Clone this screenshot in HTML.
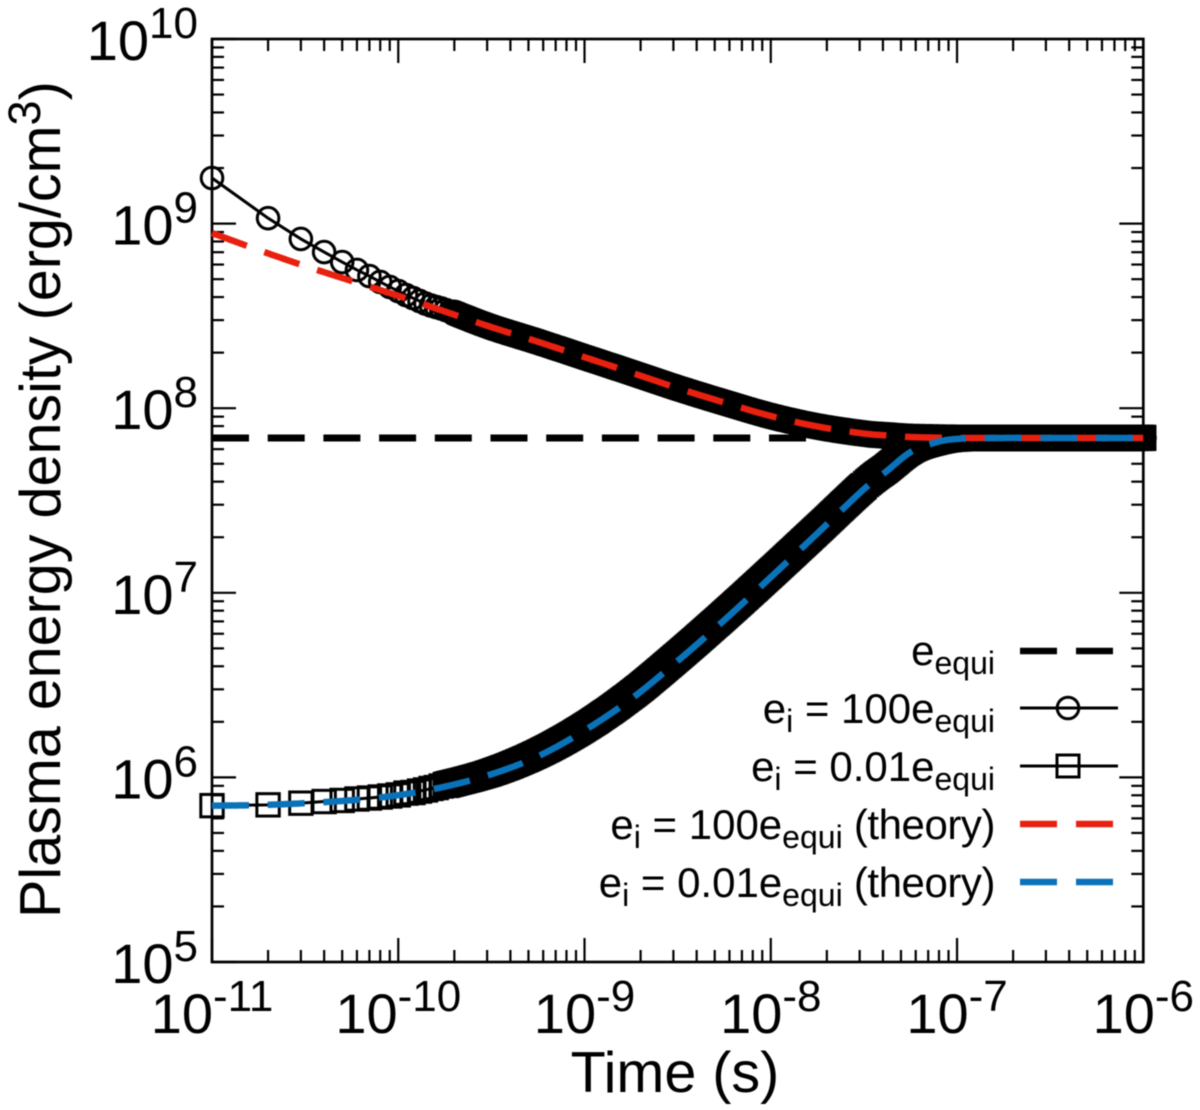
<!DOCTYPE html>
<html lang="en">
<head>
<meta charset="utf-8">
<title>Plasma energy density vs time</title>
<style>
html,body{margin:0;padding:0;background:#fff;}
svg{display:block;font-family:"Liberation Sans",Arial,sans-serif;fill:#000;filter:blur(0.5px);}
</style>
</head>
<body>
<svg id="chart" xmlns="http://www.w3.org/2000/svg" width="1200" height="1110" viewBox="0 0 1200 1110">
  <rect x="0" y="0" width="1200" height="1110" fill="#fff"/>
  <g id="axes"></g>
  <g id="series"></g>
  <text x="675" y="1092" font-size="57.5" text-anchor="middle">Time (s)</text>
  <text transform="translate(60,918) rotate(-90)" font-size="57.5">Plasma energy density (erg/cm<tspan font-size="45" dy="-20">3</tspan><tspan dy="20">)</tspan></text>
  <g font-size="42" text-anchor="end">
    <text x="995" y="665">e<tspan font-size="32" dy="9">equi</tspan></text>
    <text x="995" y="723">e<tspan font-size="32" dy="9">i</tspan><tspan dy="-9"> = 100e</tspan><tspan font-size="32" dy="9">equi</tspan></text>
    <text x="995" y="781">e<tspan font-size="32" dy="9">i</tspan><tspan dy="-9"> = 0.01e</tspan><tspan font-size="32" dy="9">equi</tspan></text>
    <text x="995" y="839">e<tspan font-size="32" dy="9">i</tspan><tspan dy="-9"> = 100e</tspan><tspan font-size="32" dy="9">equi</tspan><tspan dy="-9" letter-spacing="-0.45"> (theory)</tspan></text>
    <text x="995" y="897">e<tspan font-size="32" dy="9">i</tspan><tspan dy="-9"> = 0.01e</tspan><tspan font-size="32" dy="9">equi</tspan><tspan dy="-9" letter-spacing="-0.45"> (theory)</tspan></text>
  </g>
  <g fill="none" stroke="#000">
    <line x1="1020" x2="1114" y1="651" y2="651" stroke-width="6.5" stroke-dasharray="37 19"/>
    <line x1="1020" x2="1118" y1="708" y2="708" stroke-width="3"/>
    <circle cx="1068" cy="708" r="10.8" stroke-width="3"/>
    <line x1="1020" x2="1118" y1="766" y2="766" stroke-width="3"/>
    <rect x="1057" y="755" width="22" height="22" stroke-width="3"/>
    <line x1="1020" x2="1114" y1="824" y2="824" stroke="#e8200f" stroke-width="6.5" stroke-dasharray="37 19"/>
    <line x1="1020" x2="1114" y1="882" y2="882" stroke="#0a72b8" stroke-width="6.5" stroke-dasharray="37 19"/>
  </g>
</svg>
<script>
// Axis ranges and tick labels
const xLogRange = [-11, -6];
const yLogRange = [5, 10];
const xTickExponents = ['-11', '-10', '-9', '-8', '-7', '-6'];
const yTickExponents = ['5', '6', '7', '8', '9', '10'];
const minorTickMultipliers = [2, 3, 4, 5, 6, 7, 8, 9];

// Equilibrium level (erg/cm3)
const equilibriumValue = [6.9e7];

// Theory curves, shared time samples (s)
const theoryTimes = [1e-11, 1.78e-11, 3.16e-11, 5.62e-11, 1e-10, 1.78e-10, 3.16e-10, 5.62e-10, 1e-9, 1.78e-9, 3.16e-9, 5.62e-9, 1e-8, 1.78e-8, 3.16e-8, 4.2e-8, 5.62e-8, 7.5e-8, 1e-7, 1.78e-7, 3.16e-7, 5.62e-7, 1e-6];
const hotTheoryValues = [8.89e8, 7.19e8, 5.89e8, 4.89e8, 4.06e8, 3.34e8, 2.75e8, 2.29e8, 1.89e8, 1.56e8, 1.285e8, 1.074e8, 9.07e7, 7.96e7, 7.29e7, 7.12e7, 6.98e7, 6.93e7, 6.9e7, 6.9e7, 6.9e7, 6.9e7, 6.9e7];
const coldTheoryValues = [7.03e5, 7.08e5, 7.25e5, 7.52e5, 8.01e5, 8.91e5, 1.04e6, 1.30e6, 1.795e6, 2.66e6, 4.27e6, 7.10e6, 1.215e7, 2.10e7, 3.64e7, 4.57e7, 5.78e7, 6.48e7, 6.82e7, 6.9e7, 6.9e7, 6.9e7, 6.9e7];

// Simulation e_i = 100 e_equi: separately resolved markers
const hotMarkerTimes = [1e-11, 2e-11, 3e-11, 4e-11, 5e-11, 6e-11, 7e-11, 8e-11, 9e-11, 1e-10, 1.1e-10, 1.2e-10, 1.3e-10, 1.4e-10, 1.5e-10, 1.6e-10, 1.7e-10, 1.8e-10, 1.9e-10, 2e-10];
const hotMarkerValues = [1.766e9, 1.07e9, 8.26e8, 7.01e8, 6.19e8, 5.61e8, 5.2e8, 4.83e8, 4.54e8, 4.31e8, 4.1e8, 3.95e8, 3.81e8, 3.69e8, 3.6e8, 3.53e8, 3.47e8, 3.4e8, 3.34e8, 3.28e8];

// Simulation e_i = 0.01 e_equi: separately resolved markers
const coldMarkerTimes = [1e-11, 2e-11, 3e-11, 4e-11, 5e-11, 6e-11, 7e-11, 8e-11, 9e-11, 1e-10, 1.1e-10, 1.2e-10, 1.3e-10, 1.4e-10, 1.5e-10, 1.6e-10, 1.7e-10, 1.8e-10];
const coldMarkerValues = [7.03e5, 7.1e5, 7.25e5, 7.4e5, 7.5e5, 7.64e5, 7.73e5, 7.83e5, 7.93e5, 8.04e5, 8.22e5, 8.28e5, 8.43e5, 8.55e5, 8.71e5, 8.81e5, 8.98e5, 9.1e5];

// Simulation tails where the markers overlap into a solid band
const tailTimes = [3.16e-10, 5.62e-10, 1e-9, 1.78e-9, 3.16e-9, 5.62e-9, 1e-8, 1.78e-8, 3.16e-8, 4.2e-8, 5.62e-8, 7.5e-8, 1e-7, 1.78e-7, 3.16e-7, 5.62e-7, 1e-6];
const hotTailValues = [2.75e8, 2.29e8, 1.89e8, 1.56e8, 1.285e8, 1.074e8, 9.07e7, 7.96e7, 7.29e7, 7.12e7, 6.98e7, 6.93e7, 6.9e7, 6.9e7, 6.9e7, 6.9e7, 6.9e7];
const coldTailValues = [1.063e6, 1.348e6, 1.863e6, 2.795e6, 4.52e6, 7.53e6, 1.28e7, 2.20e7, 3.79e7, 4.74e7, 5.94e7, 6.56e7, 6.85e7, 6.9e7, 6.9e7, 6.9e7, 6.9e7];

const NS = 'http://www.w3.org/2000/svg';
const plot = { left: 212, right: 1143.3, top: 39, bottom: 962 };

function xScale(t) {
  return plot.left + (Math.log10(t) - xLogRange[0]) / (xLogRange[1] - xLogRange[0]) * (plot.right - plot.left);
}
function yScale(v) {
  return plot.bottom - (Math.log10(v) - yLogRange[0]) / (yLogRange[1] - yLogRange[0]) * (plot.bottom - plot.top);
}
function make(parent, tag, name, attrs) {
  const el = document.createElementNS(NS, tag);
  
  
  for (const k in attrs) el.setAttribute(k, attrs[k]);
  parent.appendChild(el);
  return el;
}
function toPoints(times, values) {
  return times.map((t, i) => [xScale(t), yScale(values[i])]);
}
// Catmull-Rom resampling in pixel space for a smooth rendering of the read samples
function smooth(pts) {
  const out = [];
  for (let i = 0; i < pts.length - 1; i++) {
    const p0 = pts[Math.max(i - 1, 0)], p1 = pts[i], p2 = pts[i + 1], p3 = pts[Math.min(i + 2, pts.length - 1)];
    const steps = Math.max(2, Math.ceil(Math.hypot(p2[0] - p1[0], p2[1] - p1[1]) / 2));
    for (let s = 0; s < steps; s++) {
      const u = s / steps, u2 = u * u, u3 = u2 * u;
      out.push([0, 1].map(d => 0.5 * (2 * p1[d] + (p2[d] - p0[d]) * u + (2 * p0[d] - 5 * p1[d] + 4 * p2[d] - p3[d]) * u2 + (3 * p1[d] - p0[d] - 3 * p2[d] + p3[d]) * u3)));
    }
  }
  out.push(pts[pts.length - 1]);
  return out;
}
function pathOf(pts) {
  return 'M' + pts.map(p => p[0].toFixed(2) + ' ' + p[1].toFixed(2)).join('L');
}

const axes = document.getElementById('axes');
const series = document.getElementById('series');

// Frame
make(axes, 'rect', 'plot-frame', { x: plot.left, y: plot.top, width: plot.right - plot.left, height: plot.bottom - plot.top, fill: 'none', stroke: '#000', 'stroke-width': 2.7 });

const MAJOR = 24, MINOR = 12;
function tickLine(name, x1, y1, x2, y2) {
  make(axes, 'line', name, { x1: x1, y1: y1, x2: x2, y2: y2, stroke: '#000', 'stroke-width': 2.2 });
}
function xTicks(logT, len, name) {
  const x = xScale(Math.pow(10, logT));
  tickLine(name + '-bottom', x, plot.bottom, x, plot.bottom - len);
  tickLine(name + '-top', x, plot.top, x, plot.top + len);
}
function yTicks(logV, len, name) {
  const y = yScale(Math.pow(10, logV));
  tickLine(name + '-left', plot.left, y, plot.left + len, y);
  tickLine(name + '-right', plot.right, y, plot.right - len, y);
}
function tickLabel(name, x, y, anchor, exponent) {
  const t = make(axes, 'text', name, { x: x, y: y, 'font-size': 56, 'text-anchor': anchor });
  t.appendChild(document.createTextNode('10'));
  const sup = document.createElementNS(NS, 'tspan');
  sup.setAttribute('font-size', '44');
  sup.setAttribute('dy', '-22');
  sup.textContent = exponent;
  t.appendChild(sup);
}

xTickExponents.forEach((label, i) => {
  const e = Number(label);
  xTicks(e, MAJOR, 'x-major-tick');
  tickLabel('x-tick-label', xScale(Math.pow(10, e)), 1033, 'middle', label);
  if (i < xTickExponents.length - 1) {
    minorTickMultipliers.forEach(m => xTicks(e + Math.log10(m), MINOR, 'x-minor-tick'));
  }
});
yTickExponents.forEach((label, i) => {
  const e = Number(label);
  yTicks(e, MAJOR, 'y-major-tick');
  tickLabel('y-tick-label', 198, yScale(Math.pow(10, e)) + 21, 'end', label);
  if (i < yTickExponents.length - 1) {
    minorTickMultipliers.forEach(m => yTicks(e + Math.log10(m), MINOR, 'y-minor-tick'));
  }
});

// Simulation e_i = 100 e_equi
const hotMarkers = toPoints(hotMarkerTimes, hotMarkerValues);
const hotTail = toPoints(tailTimes, hotTailValues);
make(series, 'path', 'hot-simulation-line', { d: pathOf(hotMarkers), fill: 'none', stroke: '#000', 'stroke-width': 3 });
hotMarkers.forEach(p => {
  make(series, 'circle', 'hot-simulation-marker', { cx: p[0], cy: p[1], r: 10.8, fill: 'none', stroke: '#000', 'stroke-width': 3 });
});
const hotBandPts = smooth([hotMarkers[hotMarkers.length - 1]].concat(hotTail));
make(series, 'path', 'hot-simulation-band', { d: pathOf(hotBandPts), fill: 'none', stroke: '#000', 'stroke-width': 27, 'stroke-linecap': 'round', 'stroke-linejoin': 'round' });

// Simulation e_i = 0.01 e_equi
const coldMarkers = toPoints(coldMarkerTimes, coldMarkerValues);
const coldTail = toPoints(tailTimes, coldTailValues);
make(series, 'path', 'cold-simulation-line', { d: pathOf(coldMarkers), fill: 'none', stroke: '#000', 'stroke-width': 3 });
coldMarkers.forEach(p => {
  make(series, 'rect', 'cold-simulation-marker', { x: p[0] - 11.2, y: p[1] - 11.2, width: 22.4, height: 22.4, fill: 'none', stroke: '#000', 'stroke-width': 3 });
});
const coldBandPts = smooth([coldMarkers[coldMarkers.length - 1]].concat(coldTail));
const half = 12.9;
const coldBandPath = coldBandPts.map(p => 'M' + (p[0] - half).toFixed(1) + ' ' + (p[1] - half).toFixed(1) + 'h' + 2 * half + 'v' + 2 * half + 'h' + (-2 * half) + 'z').join('');
make(series, 'path', 'cold-simulation-band', { d: coldBandPath, fill: '#000', stroke: '#000', 'stroke-width': 0.5 });

// Equilibrium and theory dashed lines
const eqY = yScale(equilibriumValue[0]);
make(series, 'line', 'equilibrium-line', { x1: plot.left, x2: plot.right, y1: eqY, y2: eqY, stroke: '#000', 'stroke-width': 7, 'stroke-dasharray': '37 18.7' });
make(series, 'path', 'hot-theory-line', { d: pathOf(smooth(toPoints(theoryTimes, hotTheoryValues))), fill: 'none', stroke: '#e8200f', 'stroke-width': 6.5, 'stroke-dasharray': '37 18.7' });
make(series, 'path', 'cold-theory-line', { d: pathOf(smooth(toPoints(theoryTimes, coldTheoryValues))), fill: 'none', stroke: '#0a72b8', 'stroke-width': 6.5, 'stroke-dasharray': '37 18.7' });
</script>
</body>
</html>
